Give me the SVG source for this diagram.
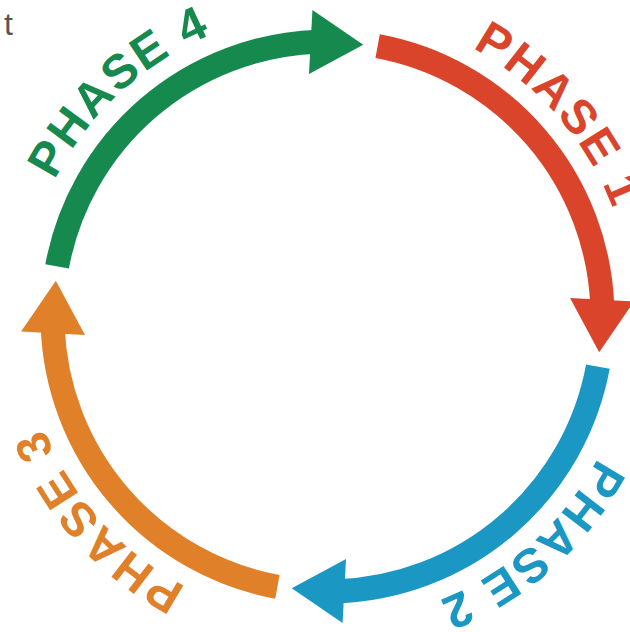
<svg xmlns="http://www.w3.org/2000/svg" xmlns:xlink="http://www.w3.org/1999/xlink" width="630" height="632" viewBox="0 0 630 632">
<style>
.shaft{fill:none;stroke-width:24;stroke-linecap:butt}
.lbl{font-family:"Liberation Sans",Arial,sans-serif;font-weight:bold;font-size:48px;letter-spacing:2px;text-anchor:middle}
.red{stroke:#d9442b;fill:#d9442b}
.blue{stroke:#1b97c4;fill:#1b97c4}
.orange{stroke:#e0812a;fill:#e0812a}
.green{stroke:#168a4e;fill:#168a4e}
</style>
<defs>
<path id="ring" d="M 22.5 316.5 A 305 305 0 1 1 632.5 316.5 A 305 305 0 1 1 22.5 316.5"/>
<g id="arrow">
<path class="shaft" d="M 50.12 -270.39 A 275 275 0 0 1 274.83 -9.6"/>
<polygon points="306.44,-15.06 271.65,35.76 242.54,-18.52" stroke="none"/>
</g>
</defs>
<rect width="630" height="632" fill="#ffffff"/>
<text x="13" y="35" text-anchor="end" font-family="Liberation Sans, Arial, sans-serif" font-size="32" fill="#555555">t</text>
<g id="connectors">
<use xlink:href="#arrow" class="red" transform="translate(327.5 316.5)"/>
<use xlink:href="#arrow" class="blue" transform="translate(327.5 316.5) rotate(90)"/>
<use xlink:href="#arrow" class="orange" transform="translate(327.5 316.5) rotate(180)"/>
<use xlink:href="#arrow" class="green" transform="translate(327.5 316.5) rotate(270)"/>
</g>
<g id="phase-1"><text class="lbl" fill="#d9442b"><textPath xlink:href="#ring" startOffset="38.6%">PHASE 1</textPath></text></g>
<g id="phase-2"><text class="lbl" fill="#1b97c4"><textPath xlink:href="#ring" startOffset="63.4%">PHASE 2</textPath></text></g>
<g id="phase-3"><text class="lbl" fill="#e0812a"><textPath xlink:href="#ring" startOffset="88.4%">PHASE 3</textPath></text></g>
<g id="phase-4"><text class="lbl" fill="#168a4e"><textPath xlink:href="#ring" startOffset="13.1%">PHASE 4</textPath></text></g>
</svg>
